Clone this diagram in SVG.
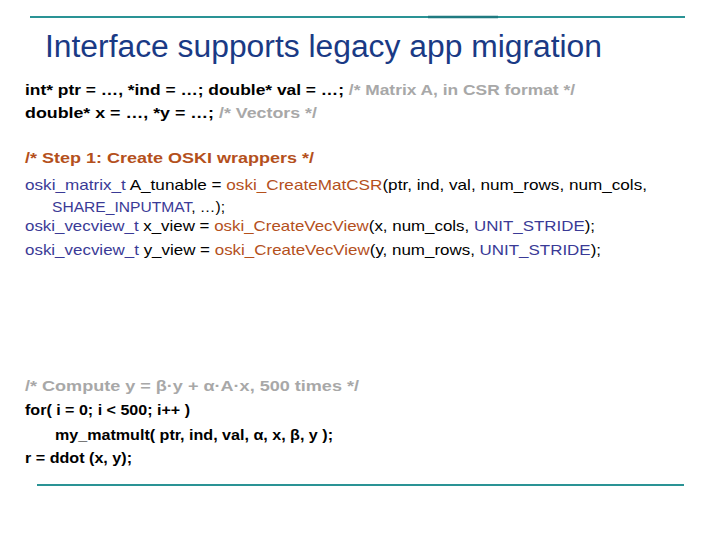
<svg xmlns="http://www.w3.org/2000/svg" width="720" height="540" viewBox="0 0 720 540">
<style>
text{font-family:"Liberation Sans",Arial,sans-serif;font-size:15px;fill:#000;font-weight:bold}
.t{font-size:31px;fill:#1a3a85;font-weight:normal}
.n{font-weight:normal}
.g{fill:#a8a8a8}
.b{fill:#3a3a96}
.o{fill:#b4501c}
</style>
<rect width="720" height="540" fill="#fff"/>
<g id="rules">
<line x1="30" y1="17" x2="685" y2="17" stroke="#2a9395" stroke-width="2"/>
<line x1="428" y1="17" x2="498" y2="17" stroke="#1f7a80" stroke-width="2.5"/>
<line x1="37" y1="485" x2="684" y2="485" stroke="#2a9395" stroke-width="2"/>
</g>
<text id="title" class="t" x="45" y="57" textLength="557" lengthAdjust="spacingAndGlyphs">Interface supports legacy app migration</text>
<g id="code">
<text x="25" y="95" textLength="550" lengthAdjust="spacingAndGlyphs">int* ptr = …, *ind = …;  double* val = …;  <tspan class="g">/*  Matrix A, in CSR format */</tspan></text>
<text x="25" y="118" textLength="292" lengthAdjust="spacingAndGlyphs">double* x = …, *y = …;  <tspan class="g">/*  Vectors */</tspan></text>
<text x="25" y="163" class="o" textLength="289" lengthAdjust="spacingAndGlyphs">/* Step 1: Create OSKI wrappers */</text>
<text x="25" y="190" class="n" textLength="622" lengthAdjust="spacingAndGlyphs"><tspan class="b">oski_matrix_t</tspan> A_tunable = <tspan class="o">oski_CreateMatCSR</tspan>(ptr, ind, val, num_rows, num_cols,</text>
<text x="52" y="212" class="n" textLength="173" lengthAdjust="spacingAndGlyphs"><tspan class="b">SHARE_INPUTMAT</tspan>, …);</text>
<text x="25" y="231" class="n" textLength="570" lengthAdjust="spacingAndGlyphs"><tspan class="b">oski_vecview_t</tspan> x_view = <tspan class="o">oski_CreateVecView</tspan>(x, num_cols, <tspan class="b">UNIT_STRIDE</tspan>);</text>
<text x="25" y="255" class="n" textLength="576" lengthAdjust="spacingAndGlyphs"><tspan class="b">oski_vecview_t</tspan> y_view = <tspan class="o">oski_CreateVecView</tspan>(y, num_rows, <tspan class="b">UNIT_STRIDE</tspan>);</text>
<text x="25" y="391" class="g" textLength="334" lengthAdjust="spacingAndGlyphs">/* Compute y = β·y + α·A·x, 500 times */</text>
<text x="25" y="415" textLength="165" lengthAdjust="spacingAndGlyphs">for( i = 0; i &lt; 500; i++ )</text>
<text x="55" y="440" textLength="278" lengthAdjust="spacingAndGlyphs">my_matmult( ptr, ind, val, α, x, β, y );</text>
<text x="25" y="463" textLength="107" lengthAdjust="spacingAndGlyphs">r = ddot (x, y);</text>
</g>
</svg>
